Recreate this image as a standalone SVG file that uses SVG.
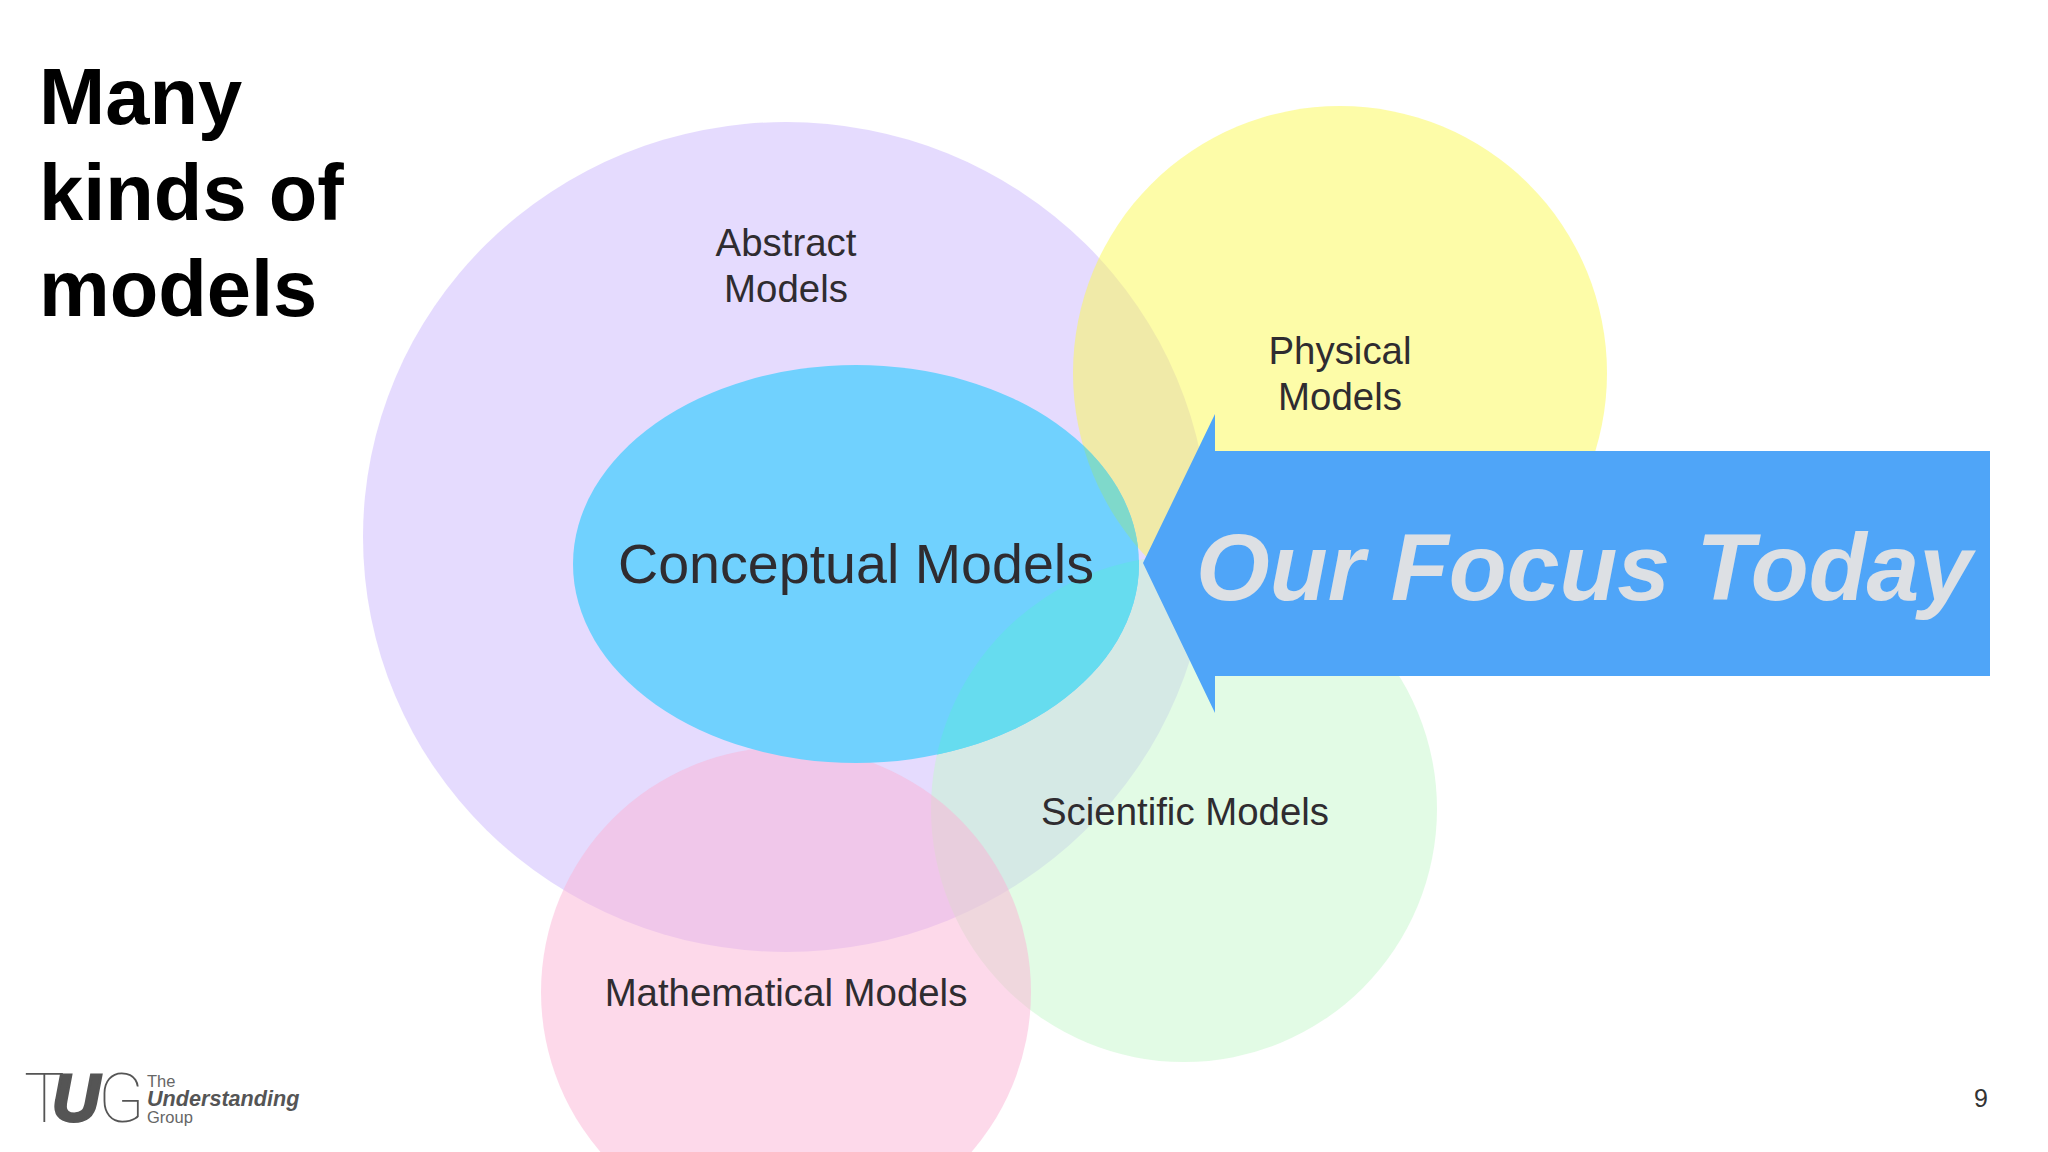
<svg xmlns="http://www.w3.org/2000/svg" width="2048" height="1152" viewBox="0 0 2048 1152">
<style>
text{font-family:"Liberation Sans",Arial,sans-serif}
.l{font-size:38.4px;fill:#2f2c30;text-anchor:middle}
.t{font-size:79.5px;font-weight:bold;fill:#000}
.g{font-size:20px;fill:#666}
.lg{font-family:Roboto,"Liberation Sans",sans-serif;font-weight:100;font-size:68px;fill:#555}
</style>
<defs>
<clipPath id="ce"><ellipse cx="856" cy="564" rx="283" ry="199"/></clipPath>
</defs>
<rect width="2048" height="1152" fill="#fff"/>
<text class="t" x="39" y="124">Many</text>
<text class="t" x="39" y="220">kinds of</text>
<text class="t" x="39" y="316">models</text>
<g id="abstract"><ellipse cx="786" cy="537" rx="423" ry="415" fill="#cbb7fd" fill-opacity=".5"/></g>
<g id="physical"><circle cx="1340" cy="373" r="267" fill="#fbf951" fill-opacity=".5"/></g>
<g id="scientific"><circle cx="1184" cy="809" r="253" fill="#c5f7cb" fill-opacity=".5"/></g>
<g id="mathematical"><circle cx="786" cy="992" r="245" fill="#fbb3d5" fill-opacity=".5"/></g>
<g id="conceptual">
<ellipse cx="856" cy="564" rx="283" ry="199" fill="#70d1fe"/>
<g clip-path="url(#ce)">
<circle cx="1340" cy="373" r="267" fill="#7fd9cb"/>
<circle cx="1184" cy="809" r="253" fill="#66dcef"/>
</g>
<text class="l" x="856" y="583" style="font-size:55.6px">Conceptual Models</text>
</g>
<text class="l" x="786" y="256">Abstract</text>
<text class="l" x="786" y="302">Models</text>
<text class="l" x="1340" y="364">Physical</text>
<text class="l" x="1340" y="410">Models</text>
<text class="l" x="1185" y="825">Scientific Models</text>
<text class="l" x="786" y="1006">Mathematical Models</text>
<g id="focus">
<polygon points="1143,563 1215,414 1215,451 1990,451 1990,676 1215,676 1215,713" fill="#4fa5f8"/>
<text x="1196" y="600" font-size="94.8" font-weight="bold" font-style="italic" fill="#dde0e4">Our Focus Today</text>
</g>
<g id="logo">
<text class="lg" x="24" y="1122">T</text>
<text x="52" y="1121" font-size="66" font-weight="bold" font-style="italic" fill="#555" stroke="#555" stroke-width="3">U</text>
<text class="lg" x="98" y="1122">G</text>
<text class="g" x="147" y="1087" style="font-size:16.5px">The</text>
<text class="g" x="147" y="1106" style="font-size:21.6px;font-weight:bold;font-style:italic;fill:#555">Understanding</text>
<text class="g" x="147" y="1123" style="font-size:16.5px">Group</text>
</g>
<text x="1981" y="1107" font-size="25" text-anchor="middle" fill="#333">9</text>
</svg>
